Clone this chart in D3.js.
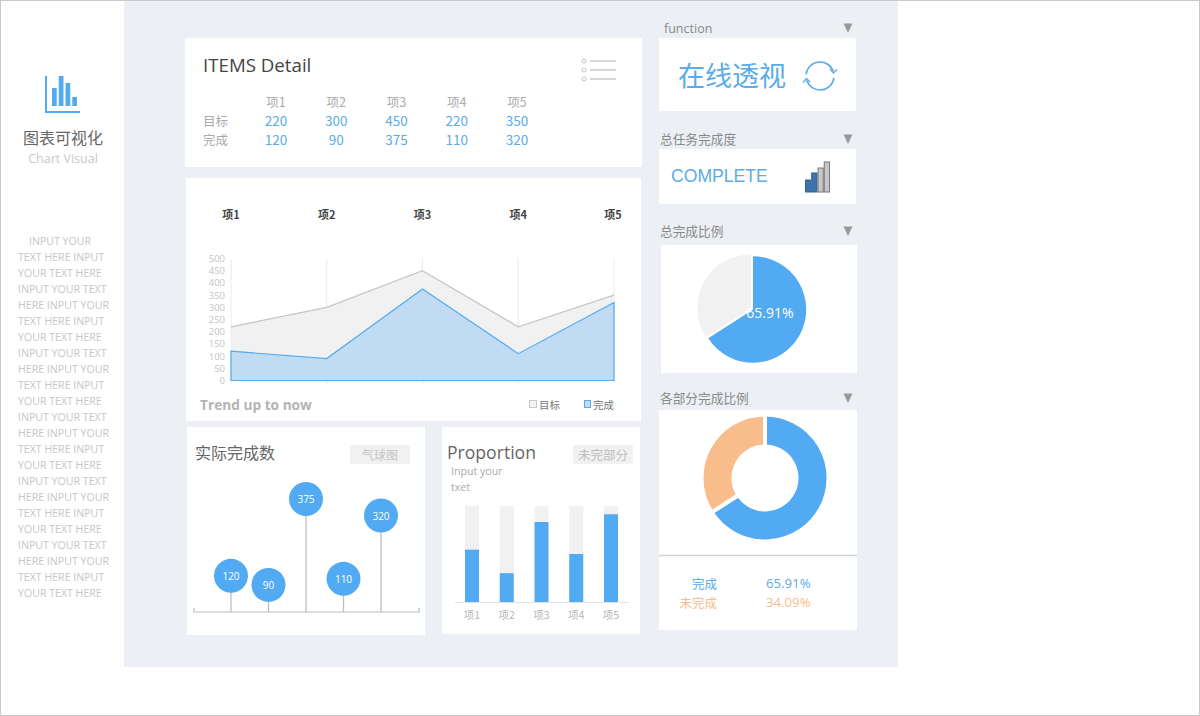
<!DOCTYPE html>
<html><head><meta charset="utf-8">
<script src="https://cdn.jsdelivr.net/npm/d3@7/dist/d3.min.js"></script>
<style>html,body{margin:0;padding:0;background:#fff}svg{display:block}text{font-family:"Noto Sans CJK SC","Noto Sans",sans-serif}</style>
</head><body><svg id="c" width="1200" height="716"></svg>
<script>
const categories = ["项1","项2","项3","项4","项5"];
const targets = [220,300,450,220,350];
const actuals = [120,90,375,110,320];
const yTicks = [0,50,100,150,200,250,300,350,400,450,500];
const completedShare = 65.91;
const remainingShare = 34.09;
const sideLines = ["INPUT YOUR","TEXT HERE INPUT","YOUR TEXT HERE","INPUT YOUR TEXT","HERE INPUT YOUR","TEXT HERE INPUT","YOUR TEXT HERE","INPUT YOUR TEXT","HERE INPUT YOUR","TEXT HERE INPUT","YOUR TEXT HERE","INPUT YOUR TEXT","HERE INPUT YOUR","TEXT HERE INPUT","YOUR TEXT HERE","INPUT YOUR TEXT","HERE INPUT YOUR","TEXT HERE INPUT","YOUR TEXT HERE","INPUT YOUR TEXT","HERE INPUT YOUR","TEXT HERE INPUT","YOUR TEXT HERE"];
const logoBars = [18,30,23,9];
const signalBars = [12,19,24,30];

const BLUE="#52abf2", TXT="#5bace8", ORANGE="#f9bd8b", GREY="#f1f1f1";
const svg=d3.select("#c");
const rect=(x,y,w,h,fill,extra={})=>{const r=svg.append("rect").attr("x",x).attr("y",y).attr("width",w).attr("height",h).attr("fill",fill);Object.entries(extra).forEach(([k,v])=>r.attr(k,v));return r;};
const text=(s,x,y,size,fill,anchor="start",extra={})=>{const t=svg.append("text").text(s).attr("x",x).attr("y",y-1).attr("font-size",size).attr("fill",fill).attr("text-anchor",anchor).attr("dominant-baseline","central");Object.entries(extra).forEach(([k,v])=>t.attr(k,v));return t;};

rect(.5,.5,1199,715,"#fff",{stroke:"#c9c9c9"});
rect(124,1,774,666,"#ecf0f5");
[[185,38,457,129],[186,178,455,243],[187,427,238,208],[442,427,198,207],[659,38,197,73],[659,149,197,55],[661,245,196,128],[659,410,198,220]]
 .forEach(c=>rect(c[0],c[1],c[2],c[3],"#fff"));

// logo
svg.append("path").attr("d","M46 76V112H80").attr("fill","none").attr("stroke",BLUE).attr("stroke-width",2);
const logoX=d3.scaleBand().domain(d3.range(logoBars.length)).range([52,77]).paddingInner(.3);
logoBars.forEach((h,i)=>rect(logoX(i),106-h,logoX.bandwidth(),h,BLUE));
text("图表可视化",63,138,16,"#666","middle");
text("Chart Visual",63,159,12.500,"#c9c9c9","middle",{style:"font-family:'Open Sans'"});
sideLines.forEach((s,i)=>text(s,i?18:29,242+i*16,10.6,"#c6c6c6","start",{style:"font-family:'Open Sans'"}));

// detail table
text("ITEMS Detail",203,65,18.7,"#444","start",{style:"font-family:'Open Sans'"});
[61,70,79].forEach(y=>{svg.append("circle").attr("cx",584).attr("cy",y).attr("r",2).attr("fill","#fff").attr("stroke","#c4c4c4");
 svg.append("line").attr("x1",590).attr("x2",616).attr("y1",y).attr("y2",y).attr("stroke","#c9c9c9").attr("stroke-width",1.5);});
const tx=d3.scalePoint().domain(categories).range([276,517]);
text("目标",203,121,12.5,"#aaa");text("完成",203,140,12.5,"#aaa");
categories.forEach((c,i)=>{text(c,tx(c),102,12.5,"#aaa","middle");
 text(targets[i],tx(c),121,13.5,TXT,"middle");text(actuals[i],tx(c),140,13.5,TXT,"middle");});

// area chart
const ax=d3.scalePoint().domain(categories).range([231,614]);
const ay=d3.scaleLinear().domain([0,500]).range([380.5,258.5]);
categories.forEach(c=>{svg.append("line").attr("x1",ax(c)).attr("x2",ax(c)).attr("y1",259).attr("y2",384).attr("stroke","#eaeaea");
 text(c,Math.min(ax(c),613),215,11,"#444","middle",{"font-weight":"bold"});});
const idx=categories.map((c,i)=>i);
const area=v=>d3.area().x(i=>ax(categories[i])).y0(ay(0)).y1(i=>ay(v[i]));
const line=v=>d3.line().x(i=>ax(categories[i])).y(i=>ay(v[i]));
svg.append("path").attr("d",area(targets)(idx)).attr("fill","#f1f1f1");
svg.append("path").attr("d",line(targets)(idx)).attr("fill","none").attr("stroke","#c6c6c6").attr("stroke-width",1.3);
svg.append("path").attr("d",area(actuals)(idx)).attr("fill","#c1dcf2").attr("stroke",BLUE).attr("stroke-width",1.2);
const yAxis=svg.append("g").attr("transform","translate(225,0)").call(d3.axisLeft(ay).tickValues(yTicks).tickSize(0).tickPadding(0));
yAxis.select(".domain").remove();
yAxis.selectAll("text").attr("fill","#c4c4c4").attr("font-size",9.5).style("font-family","'Open Sans'");
text("Trend up to now",200,405,13.7,"#b4b4b4","start",{"font-weight":"bold",style:"font-family:'Open Sans'"});
rect(529.5,400.5,7,7,"#f4f4f4",{stroke:"#c8c8c8"});text("目标",539,405,10.5,"#777");
rect(584.5,400.5,6,7,"#c1dcf2",{stroke:BLUE});text("完成",593,405,10.5,"#777");

// bubble chart
text("实际完成数",195,453,16,"#666");
rect(350,445,60,19,"#f1f1f1",{rx:2});text("气球图",380,455,12,"#c4c4c4","middle");
const bx=d3.scaleLinear().domain([0,4]).range([231,381]);
const by=d3.scaleLinear().domain([0,375]).range([612,499]);
svg.append("path").attr("d","M194 608V612H419V608").attr("fill","none").attr("stroke","#bdbdbd").attr("stroke-width",1.2);
actuals.forEach((v,i)=>{svg.append("line").attr("x1",bx(i)).attr("x2",bx(i)).attr("y1",by(v)).attr("y2",612).attr("stroke","#bdbdbd").attr("stroke-width",1.3);
 svg.append("circle").attr("cx",bx(i)).attr("cy",by(v)).attr("r",17).attr("fill",BLUE);
 text(v,bx(i),by(v)+1,10,"#fff","middle",{style:"font-family:'Open Sans'"});});

// stacked ratio bars
text("Proportion",447,452.5,17.6,"#666","start",{style:"font-family:'Open Sans'"});
text("Input your",451,472,10.6,"#aaa","start",{style:"font-family:'Open Sans'"});
text("txet",451,488,10.6,"#aaa","start",{style:"font-family:'Open Sans'"});
rect(573,445,60,19,"#f1f1f1",{rx:2});text("未完部分",603,455,12.5,"#bdbdbd","middle");
const px=d3.scalePoint().domain(categories).range([472,611]);
const py=d3.scaleLinear().domain([0,1]).range([602,506]);
categories.forEach((c,i)=>{rect(px(c)-7,py(1),14,py(0)-py(1),GREY);
 const r=actuals[i]/targets[i];rect(px(c)-7,py(r),14,py(0)-py(r),BLUE);
 text(c,px(c),615,10.5,"#b4b4b4","middle");});
svg.append("line").attr("x1",455).attr("x2",629).attr("y1",602.5).attr("y2",602.5).attr("stroke","#e2e2e2");

// right headers
[["function",664,29,12.500],["总任务完成度",660,139,12.7],["总完成比例",660,231,12.7],["各部分完成比例",660,398,12.7]].forEach(h=>text(h[0],h[1],h[2],h[3],"#888","start",h[0]=="function"?{style:"font-family:'Open Sans'"}:{}));
[28,139,231,398].forEach(y=>svg.append("path").attr("d",d3.line()([[843.5,y-4.5],[852.5,y-4.5],[848,y+5]])+"Z").attr("fill","#999"));

text("在线透视",678,75,27,TXT);
const arcI=d3.arc().innerRadius(13.2).outerRadius(14.8);
[[-1.45,1.25],[1.7,4.4]].forEach(a=>svg.append("path").attr("transform","translate(820,76)").attr("d",arcI({startAngle:a[0],endAngle:a[1]})).attr("fill",TXT));
svg.append("path").attr("d","M830 69l3.500 4l3.500-3.500M803 82.500l3.500-4l3.500 3.500").attr("fill","none").attr("stroke",TXT).attr("stroke-width",1.3);

text("COMPLETE",671,177,17.6,TXT,"start",{style:"font-family:'Liberation Sans'"});
const sx=d3.scaleBand().domain(d3.range(signalBars.length)).range([805,830]);
signalBars.forEach((h,i)=>rect(sx(i)+.5,192-h,sx.bandwidth()-1,h,i<2?"#3d74ad":"#c8c8c8",{stroke:i<2?"#2f5f92":"#777"}));

// pie
const pie=d3.pie().sort(null).startAngle(0).endAngle(2*Math.PI);
const shares=pie([completedShare,remainingShare]);
svg.append("path").attr("transform","translate(753,309.5)").attr("d",d3.arc().innerRadius(0).outerRadius(53.200)(shares[0])).attr("fill",BLUE);
svg.append("path").attr("transform","translate(751,308)").attr("d",d3.arc().innerRadius(0).outerRadius(53.800)(shares[1])).attr("fill",GREY);
text(completedShare+"%",770,313,14,"#fff","middle",{style:"font-family:'Open Sans'"});

// donut
const dArc=d3.arc().innerRadius(31.5).outerRadius(63.5);
const dColors=[BLUE,ORANGE];
shares.forEach((s,i)=>svg.append("path").attr("transform","translate(765,478)").attr("d",dArc(s)).attr("fill",dColors[i]).attr("stroke","#fff").attr("stroke-width",4));
svg.append("line").attr("x1",659).attr("x2",857).attr("y1",555.500).attr("y2",555.500).attr("stroke","#d0d0d0").attr("stroke-width",1.4);
text("完成",717,584,12.5,TXT,"end");text("未完成",717,603,12.5,ORANGE,"end");
text(completedShare+"%",766,584,13.2,TXT,"start",{style:"font-family:'Open Sans'"});
text(remainingShare+"%",766,603,13.2,ORANGE,"start",{style:"font-family:'Open Sans'"});
</script></body></html>
